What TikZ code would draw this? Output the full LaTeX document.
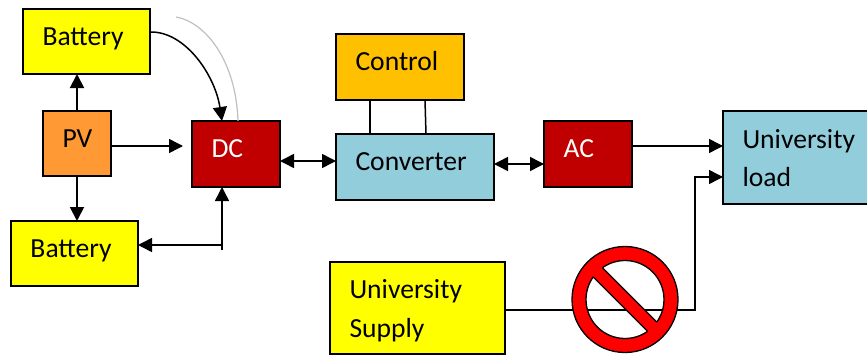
\documentclass[tikz,border=0pt]{standalone}
\usepackage{fontspec}
\setmainfont{Carlito}
\usetikzlibrary{arrows.meta,positioning,calc}
\definecolor{pvorange}{HTML}{FF9933}
\definecolor{darkred}{HTML}{C00000}
\definecolor{paleblue}{HTML}{92CDDC}
\definecolor{ctrlamber}{HTML}{FFC000}
\definecolor{boxyellow}{HTML}{FFFF00}
\definecolor{signred}{HTML}{FF0000}

\begin{document}
\begin{tikzpicture}[
		x=1pt,y=-1pt,
		> = {Triangle[length=14pt,width=14pt]},
		box/.style n args={2}{draw,line width=1.7pt,anchor=north west,outer sep=0pt,
			minimum width=#1pt,minimum height=#2pt,text width=#1pt-39pt,
			inner xsep=19.5pt,inner ysep=0pt,align=left,
			text height=7pt,text depth=0pt,
			font=\fontsize{27.6}{38.5}\selectfont},
		twolines/.style={text height=0pt,text depth=19pt},
		wire/.style={line width=1.5pt},
		thick wire/.style={line width=1.9pt}
		]
		\useasboundingbox (0,0) rectangle (867,356);
		\clip (0,0) rectangle (867,356);
		\node[box={127}{65},fill=boxyellow] (batt1) at (23,9) {Battery};
		\node[box={68}{65},fill=pvorange] (pv) at (43,111) {PV};
		\node[box={127}{65},fill=boxyellow] (batt2) at (11,221) {Battery};
		\node[box={88}{66},fill=darkred,text=white] (dc) at (192,121) {DC};
		\node[box={128}{66},fill=ctrlamber] (control) at (336,34) {Control};
		\node[box={158}{66},fill=paleblue] (conv) at (336,134) {Converter};
		\node[box={88}{66},fill=darkred,text=white] (ac) at (544,121) {AC};
		\node[box={160}{93},twolines,fill=paleblue] (load) at (723,111) {University\\load};
		\node[box={175}{92},twolines,fill=boxyellow] (supply) at (330,262) {University\\Supply};
		\coordinate (dcin) at (183,146);
		\coordinate (grayin) at (176,17);
		\coordinate (dcfoot) at (222,250);
		\coordinate (junct) at (222,245);
		\coordinate (bend) at (695,310);
		
		% PV and batteries
		\draw[->,thick wire] (pv.north) -- (pv.north |- batt1.south);
		\draw[->,thick wire] (pv.south) -- (pv.south |- batt2.north);
		\draw[->,wire] (pv.east |- dcin) -- (dcin);
		\draw[->,wire] ([yshift=9.5pt]batt1.east) .. controls (185,31) and (215,75) .. ([xshift=-14pt]dc.north);
		\draw[line width=1.2pt,gray!50] (grayin) .. controls (205,22) and (236,60) .. ([xshift=2pt]dc.north);
		\draw[->,wire] (dcfoot) -- (dcfoot |- dc.south);
		\draw[->,wire] (junct) -- (junct -| batt2.east);
		
		% main line
		\draw[<->,wire] ([yshift=-7pt]dc.east) -- ([yshift=6pt]conv.west);
		\draw[<->,wire] ([yshift=3pt]conv.east) -- ([yshift=-10pt]ac.west);
		\draw[->,wire] ([yshift=8pt]ac.east) -- ([yshift=8pt]ac.east -| load.west);
		\draw[wire] ([xshift=34pt]control.south west) -- ([xshift=34pt]conv.north west);
		\draw[wire] ([xshift=89pt]control.south west) -- ([xshift=90pt]conv.north west);
		\draw[->,wire] ([yshift=-2pt]supply.east) -- (bend) |- ([yshift=-19.5pt]load.west);
		
		% forbidden sign
		\draw[line width=1.3pt,fill=signred,even odd rule] (625,299.5) circle (53) (625,299.5) circle (39);
		\begin{scope}[shift={(625,299.5)},rotate=-45]
			\fill[signred] (-41,-6.5) rectangle (41,6.5);
			\draw[line width=1.3pt] (-38.5,-6.5) -- (38.5,-6.5) (-38.5,6.5) -- (38.5,6.5);
		\end{scope}
	\end{tikzpicture}
\end{document}
